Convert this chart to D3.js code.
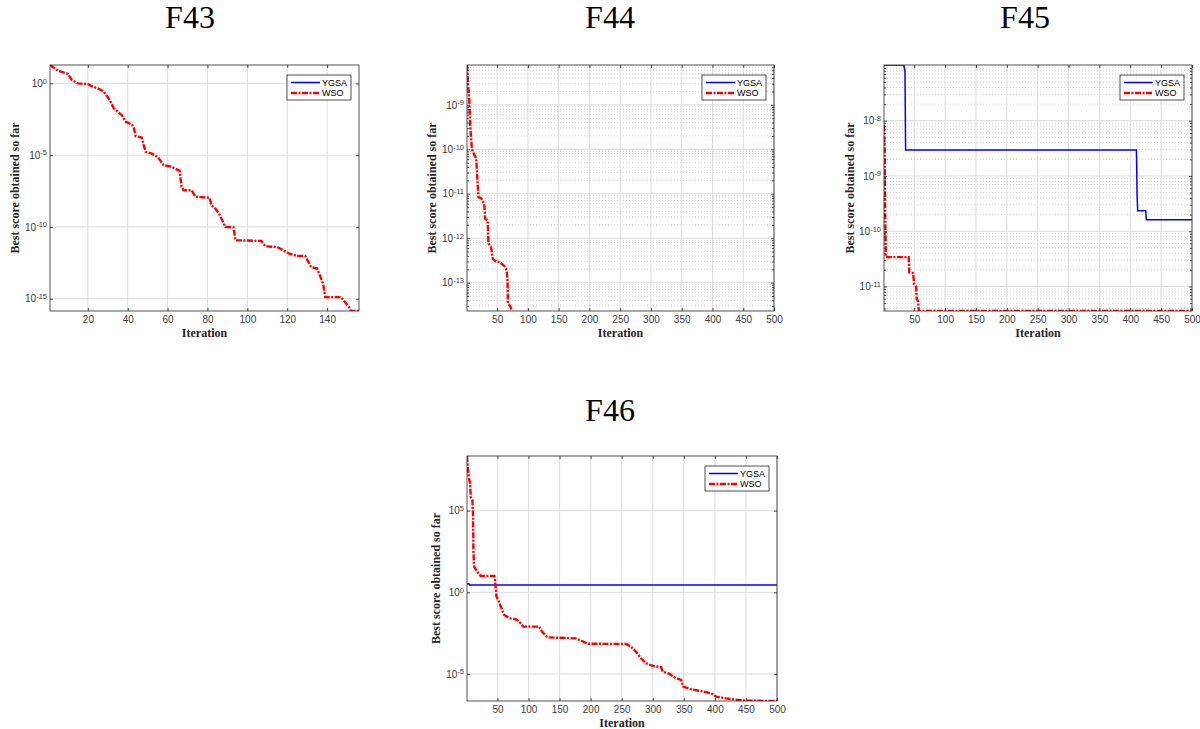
<!DOCTYPE html>
<html>
<head>
<meta charset="utf-8">
<script src="https://cdn.jsdelivr.net/npm/d3@7"></script>
<style>
  html, body { margin: 0; padding: 0; background: #fff; }
  svg { display: block; }
</style>
</head>
<body>
<svg id="chart" width="1200" height="729"></svg>
<script>
// ---------------- DATA ----------------
const panelTitles = ["F43", "F44", "F45", "F46"];
const seriesNames = ["YGSA", "WSO"];

// F43 (YGSA not visible on log scale)
const f43WsoIter = [1, 5, 10, 12, 15, 20, 22, 26, 28, 31, 33, 36, 37, 39, 42, 43, 44, 47, 48, 49, 52, 55, 58, 62, 66, 67, 68, 72, 74, 81, 82, 84, 86, 89, 93, 94, 107, 109, 115, 121, 125, 129, 132, 135, 137, 138, 139, 147, 151, 152, 156];
const f43WsoVal = [19, 7.6, 4.5, 1.7, 1.0, 0.89, 0.65, 0.38, 0.26, 0.069, 0.018, 8.1e-3, 6.3e-3, 2.1e-3, 1.4e-3, 8.5e-4, 2.1e-4, 1.7e-4, 5e-5, 1.7e-5, 1.3e-5, 7.6e-6, 2e-6, 1.55e-6, 8.1e-7, 6.3e-8, 3.6e-8, 3.6e-8, 1.26e-8, 1.1e-8, 3.2e-9, 1.9e-9, 7.2e-10, 1e-10, 1e-10, 1.2e-11, 1.05e-11, 4.5e-12, 4e-12, 1.4e-12, 9.5e-13, 9.5e-13, 1.6e-13, 1.26e-13, 2.5e-14, 1.1e-14, 1.3e-15, 1.3e-15, 2.6e-16, 1.4e-16, 1.4e-16];
const f43YgsaIter = [];
const f43YgsaVal = [];

// F44 (YGSA not visible)
const f44WsoIter = [1, 3, 4, 5, 6.5, 9, 13, 16, 17, 19.5, 24, 29, 30.5, 34.5, 36, 40, 43, 48, 54, 62, 65.5, 67, 67.5, 71, 74.5];
const f44WsoVal = [7.9e-9, 2.4e-9, 2.0e-9, 1.0e-9, 2.95e-10, 1.0e-10, 7.4e-11, 6.3e-11, 3.4e-11, 8.5e-12, 7.9e-12, 6.0e-12, 2.75e-12, 2.5e-12, 7.6e-13, 6.3e-13, 3.4e-13, 3.0e-13, 2.9e-13, 2.35e-13, 1.9e-13, 1.0e-13, 3.4e-14, 3.0e-14, 2.3e-14];
const f44YgsaIter = [];
const f44YgsaVal = [];

// F45
const f45YgsaIter = [1, 33, 35, 36, 410, 411, 412, 425, 426, 500];
const f45YgsaVal = [1.02e-7, 1.02e-7, 7.8e-8, 2.95e-9, 2.95e-9, 4.7e-10, 2.35e-10, 2.35e-10, 1.62e-10, 1.62e-10];
const f45WsoIter = [1, 2, 3, 4, 41, 42, 48, 50, 53, 54, 56, 57.5, 500];
const f45WsoVal = [8.3e-9, 3e-9, 1.8e-10, 3.4e-11, 3.4e-11, 1.8e-11, 1.75e-11, 1.1e-11, 1.0e-11, 5.9e-12, 5.5e-12, 3.6e-12, 3.6e-12];

// F46
const f46YgsaIter = [1, 4, 5, 500];
const f46YgsaVal = [3.4, 3.4, 2.8, 2.8];
const f46WsoIter = [1, 2.5, 4.4, 6, 7, 9.7, 10.8, 11.3, 12.4, 17.7, 23, 45, 46, 48.5, 52.7, 55.5, 60.8, 69, 80, 85, 91.5, 117, 121.6, 130.6, 176, 188, 196, 257, 265, 273, 281, 289, 300, 313.5, 316, 327, 337.7, 345.8, 349, 362, 383, 397, 402, 418, 429, 450, 500];
const f46WsoVal = [2.24e8, 3.1e7, 9.5e6, 4.7e6, 7.1e5, 4.5e5, 4.3e4, 3.9e2, 37, 18, 10, 10, 5.6, 0.54, 0.26, 0.13, 0.041, 0.026, 0.022, 0.016, 7.9e-3, 7.9e-3, 3.9e-3, 1.74e-3, 1.5e-3, 9.5e-4, 7.1e-4, 6.8e-4, 4.7e-4, 2.3e-4, 9.1e-5, 4.5e-5, 3.1e-5, 2.6e-5, 1.4e-5, 1.0e-5, 5.4e-6, 4.3e-6, 1.66e-6, 1.15e-6, 8.1e-7, 5.9e-7, 4.1e-7, 3.2e-7, 2.8e-7, 2.3e-7, 2.2e-7];

// axis extents & ticks
const f43XDomain = [1, 156];
const f44XDomain = [1, 500];
const f45XDomain = [1, 500];
const f46XDomain = [1, 500];
const f43XTicks = [20, 40, 60, 80, 100, 120, 140];
const bigXTicks = [50, 100, 150, 200, 250, 300, 350, 400, 450, 500];
const f43YTicks = [0, -5, -10, -15];
const f44YTicks = [-13, -12, -11, -10, -9];
const f45YTicks = [-11, -10, -9, -8];
const f46YTicks = [-5, 0, 5];

// ---------------- LAYOUT ----------------
const panels = [
  { title: panelTitles[0], box: {l: 50, t: 65, r: 359, b: 311}, titleX: 190, titleY: 28, ylabOff: 35,
    xDomain: f43XDomain, xTicks: f43XTicks, yTicks: f43YTicks, minor: false,
    ygsa: [f43YgsaIter, f43YgsaVal], wso: [f43WsoIter, f43WsoVal] },
  { title: panelTitles[1], box: {l: 467, t: 65, r: 774, b: 311}, titleX: 610, titleY: 28, ylabOff: 35,
    xDomain: f44XDomain, xTicks: bigXTicks, yTicks: f44YTicks, minor: true,
    ygsa: [f44YgsaIter, f44YgsaVal], wso: [f44WsoIter, f44WsoVal] },
  { title: panelTitles[2], box: {l: 884, t: 65, r: 1192, b: 311}, titleX: 1025, titleY: 28, ylabOff: 34,
    xDomain: f45XDomain, xTicks: bigXTicks, yTicks: f45YTicks, minor: true,
    ygsa: [f45YgsaIter, f45YgsaVal], wso: [f45WsoIter, f45WsoVal] },
  { title: panelTitles[3], box: {l: 467, t: 456, r: 777, b: 701}, titleX: 610, titleY: 421, ylabOff: 31,
    xDomain: f46XDomain, xTicks: bigXTicks, yTicks: f46YTicks, minor: false,
    ygsa: [f46YgsaIter, f46YgsaVal], wso: [f46WsoIter, f46WsoVal] }
];

const svg = d3.select("#chart");
const AX = "#262626";
const GRID = "#dcdcdc";
const MINOR = "#c4c4c4";
const TICKFONT = "'Liberation Sans', Arial, sans-serif";
const SERIF = "'Liberation Serif', 'Times New Roman', serif";
const WSO_DASH = "6,1.5,2,1.5";

panels.forEach((p, i) => {
  const {l, t, r, b} = p.box;
  const w = r - l, h = b - t;
  const allVals = p.ygsa[1].concat(p.wso[1]);
  const yExt = d3.extent(allVals);
  const x = d3.scaleLinear().domain(p.xDomain).range([0, w]);
  const y = d3.scaleLog().domain([yExt[0], yExt[1]]).range([h, 0]);

  // title
  svg.append("text").attr("x", p.titleX).attr("y", p.titleY)
    .attr("text-anchor", "middle").attr("font-family", SERIF).attr("font-size", 32)
    .attr("fill", "#000").text(p.title);

  const g = svg.append("g").attr("transform", `translate(${l},${t})`);
  g.append("rect").attr("width", w).attr("height", h).attr("fill", "#fff");

  // minor y grid
  const lo = Math.floor(Math.log10(yExt[0])), hi = Math.ceil(Math.log10(yExt[1]));
  const minorVals = [];
  if (p.minor) {
    for (let e = lo; e <= hi; e++) for (let m = 2; m <= 9; m++) {
      const v = m * Math.pow(10, e);
      if (v > yExt[0] && v < yExt[1]) minorVals.push(v);
    }
    g.selectAll(".mgrid").data(minorVals).enter().append("line")
      .attr("x1", 0).attr("x2", w).attr("y1", d => y(d)).attr("y2", d => y(d))
      .attr("stroke", MINOR).attr("stroke-width", 0.8).attr("stroke-dasharray", "1,2");
  }
  // major grid
  const yTickVals = p.yTicks.map(e => Math.pow(10, e));
  g.selectAll(".ygrid").data(yTickVals).enter().append("line")
    .attr("x1", 0).attr("x2", w).attr("y1", d => y(d)).attr("y2", d => y(d))
    .attr("stroke", GRID).attr("stroke-width", 1);
  g.selectAll(".xgrid").data(p.xTicks).enter().append("line")
    .attr("y1", 0).attr("y2", h).attr("x1", d => x(d)).attr("x2", d => x(d))
    .attr("stroke", GRID).attr("stroke-width", 1);

  // lines
  const clipId = "clip" + i;
  g.append("clipPath").attr("id", clipId).append("rect").attr("width", w).attr("height", h);
  const line = d3.line().x(d => x(d[0])).y(d => y(d[1]));
  const plotG = g.append("g").attr("clip-path", `url(#${clipId})`);
  const ygsaPts = d3.zip(p.ygsa[0], p.ygsa[1]);
  const wsoPts = d3.zip(p.wso[0], p.wso[1]);
  if (ygsaPts.length) plotG.append("path").datum(ygsaPts).attr("d", line)
    .attr("fill", "none").attr("stroke", "#0000ff").attr("stroke-width", 1.5);
  if (wsoPts.length) plotG.append("path").datum(wsoPts).attr("d", line)
    .attr("fill", "none").attr("stroke", "#ff0000").attr("stroke-width", 2.4)
    .attr("stroke-dasharray", WSO_DASH);

  // axes
  const xAxis = d3.axisBottom(x).tickValues(p.xTicks).tickSize(-3).tickPadding(5).tickFormat(d3.format("d"));
  g.append("g").attr("transform", `translate(0,${h})`).call(xAxis);
  const yAxis = d3.axisLeft(y).tickValues(yTickVals).tickSize(-3).tickPadding(3).tickFormat(() => "");
  const ya = g.append("g").call(yAxis);
  ya.selectAll(".tick text").each(function(d, k) {
    const s = d3.select(this);
    s.append("tspan").text("10");
    s.append("tspan").attr("dy", "-0.45em").attr("font-size", "7.5px").text(String(p.yTicks[k]));
  });
  g.append("g").attr("transform", `translate(${w},0)`).call(d3.axisRight(y).tickValues(yTickVals).tickSize(-3).tickFormat(() => ""));
  g.append("g").call(d3.axisTop(x).tickValues(p.xTicks).tickSize(-3).tickFormat(() => ""));
  if (p.minor) {
    g.append("g").call(d3.axisLeft(y).tickValues(minorVals).tickSize(-2).tickFormat(() => ""));
    g.append("g").attr("transform", `translate(${w},0)`).call(d3.axisRight(y).tickValues(minorVals).tickSize(-2).tickFormat(() => ""));
  }
  g.selectAll(".domain").remove();
  g.selectAll(".tick line").attr("stroke", AX).attr("stroke-width", 0.8);
  g.selectAll(".tick text").attr("fill", "#404040").attr("font-family", TICKFONT).attr("font-size", 10);

  g.append("rect").attr("width", w).attr("height", h).attr("fill", "none")
    .attr("stroke", AX).attr("stroke-width", 0.8);

  // axis labels
  g.append("text").attr("x", w / 2).attr("y", h + 26).attr("text-anchor", "middle")
    .attr("font-family", SERIF).attr("font-weight", "bold").attr("font-size", 12)
    .attr("fill", "#262626").text("Iteration");
  g.append("text").attr("transform", `translate(${-p.ylabOff},${h / 2}) rotate(-90)`)
    .attr("text-anchor", "middle").attr("dy", "0.35em")
    .attr("font-family", SERIF).attr("font-weight", "bold").attr("font-size", 12)
    .attr("fill", "#262626").text("Best score obtained so far");

  // legend
  const lw = 64, lh = 25;
  const lg = g.append("g").attr("transform", `translate(${w - 8 - lw},10)`);
  lg.append("rect").attr("width", lw).attr("height", lh).attr("fill", "#fff")
    .attr("stroke", AX).attr("stroke-width", 0.8);
  const styles = [
    {c: "#0000ff", sw: 1.5, da: null},
    {c: "#ff0000", sw: 2.4, da: WSO_DASH}
  ];
  seriesNames.forEach((nm, k) => {
    const yy = 7.5 + k * 10.5;
    lg.append("line").attr("x1", 4).attr("x2", 33).attr("y1", yy).attr("y2", yy)
      .attr("stroke", styles[k].c).attr("stroke-width", styles[k].sw)
      .attr("stroke-dasharray", styles[k].da);
    lg.append("text").attr("x", 35).attr("y", yy).attr("dy", "0.35em")
      .attr("font-family", TICKFONT).attr("font-size", 9).attr("fill", "#000").text(nm);
  });
});
</script>
</body>
</html>
